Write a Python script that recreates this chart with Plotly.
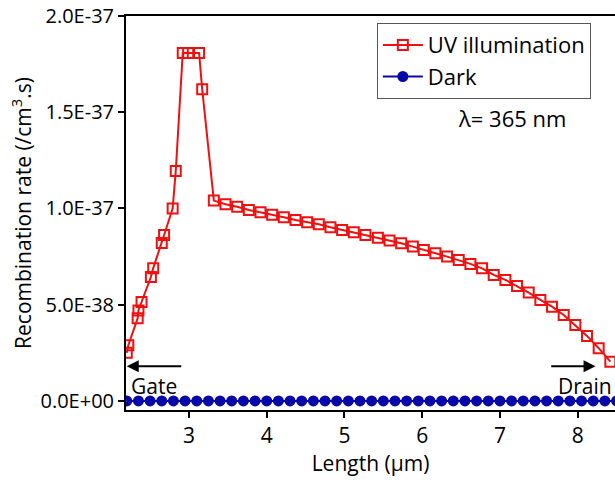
import plotly.graph_objects as go

uv_x = [2.20, 2.22, 2.34, 2.35, 2.39, 2.51, 2.54, 2.65, 2.68, 2.79, 2.83, 2.92, 2.99, 3.13, 3.17,
        3.32, 3.47, 3.62, 3.77, 3.92, 4.07, 4.22, 4.37, 4.52, 4.67, 4.82, 4.97, 5.12, 5.27,
        5.43, 5.58, 5.73, 5.88, 6.02, 6.17, 6.32, 6.47, 6.62, 6.77, 6.92, 7.07, 7.22, 7.37,
        7.52, 7.67, 7.82, 7.97, 8.12, 8.27, 8.42]
uv_y = [0.25e-37, 0.29e-37, 0.43e-37, 0.47e-37, 0.514e-37, 0.644e-37, 0.69e-37, 0.82e-37, 0.862e-37,
        1.0e-37, 1.195e-37, 1.808e-37, 1.808e-37, 1.808e-37, 1.62e-37,
        1.041e-37, 1.022e-37, 1.009e-37, 0.992e-37, 0.98e-37, 0.968e-37, 0.954e-37, 0.94e-37,
        0.928e-37, 0.918e-37, 0.902e-37, 0.888e-37, 0.876e-37, 0.862e-37,
        0.848e-37, 0.833e-37, 0.819e-37, 0.802e-37, 0.784e-37, 0.767e-37, 0.75e-37, 0.732e-37,
        0.712e-37, 0.689e-37, 0.655e-37, 0.629e-37, 0.597e-37, 0.563e-37, 0.525e-37, 0.49e-37,
        0.447e-37, 0.395e-37, 0.338e-37, 0.274e-37, 0.204e-37]

dark_x = [2.20, 2.35, 2.50, 2.65, 2.80, 2.95, 3.10, 3.25, 3.40, 3.55, 3.70, 3.85, 4.00, 4.15,
          4.30, 4.45, 4.60, 4.75, 4.90, 5.05, 5.20, 5.35, 5.50, 5.65, 5.80, 5.95, 6.10, 6.25,
          6.40, 6.55, 6.70, 6.85, 7.00, 7.15, 7.30, 7.45, 7.60, 7.75, 7.90, 8.05, 8.20, 8.35, 8.50]
dark_y = [0.0] * len(dark_x)

x_ticks = [3, 4, 5, 6, 7, 8]
y_ticks = [0, 0.5e-37, 1.0e-37, 1.5e-37, 2.0e-37]
y_tick_labels = ["0.0E+00", "5.0E-38", "1.0E-37", "1.5E-37", "2.0E-37"]

FONT = "Open Sans"
RED = "#f01010"
BLUE = "#0808a8"

fig = go.Figure()
fig.add_trace(go.Scatter(
    x=uv_x, y=uv_y, mode="lines+markers", name="UV illumination",
    line=dict(color=RED, width=2),
    marker=dict(symbol="square-open", size=10, color=RED, line=dict(width=2, color=RED)),
))
fig.add_trace(go.Scatter(
    x=dark_x, y=dark_y, mode="lines+markers", name="Dark",
    line=dict(color=BLUE, width=2),
    marker=dict(symbol="circle-dot", size=11, color=BLUE, line=dict(width=0)),
))

fig.add_annotation(x=2.2, y=0.18e-37, ax=2.92, ay=0.18e-37, xref="x", yref="y", axref="x", ayref="y",
                   showarrow=True, arrowhead=2, arrowsize=1.2, arrowwidth=2, arrowcolor="black", text="")
fig.add_annotation(x=8.23, y=0.18e-37, ax=7.64, ay=0.18e-37, xref="x", yref="y", axref="x", ayref="y",
                   showarrow=True, arrowhead=2, arrowsize=1.2, arrowwidth=2, arrowcolor="black", text="")
fig.add_annotation(x=2.23, y=0.08e-37, text="Gate", showarrow=False, xanchor="left",
                   font=dict(family=FONT, size=21, color="black"))
fig.add_annotation(x=8.47, y=0.08e-37, text="Drain", showarrow=False, xanchor="right",
                   font=dict(family=FONT, size=21, color="black"))
fig.add_annotation(x=7.15, y=1.47e-37, text="\u03bb= 365 nm", showarrow=False, xanchor="center",
                   font=dict(family=FONT, size=22, color="black"))

fig.update_layout(
    width=615, height=480,
    margin=dict(l=126, r=0, t=16, b=70),
    plot_bgcolor="white", paper_bgcolor="white",
    font=dict(family=FONT, size=21, color="black"),
    showlegend=True,
    legend=dict(x=0.513, y=0.982, xanchor="left", yanchor="top",
                bgcolor="white", bordercolor="#555", borderwidth=1,
                font=dict(family=FONT, size=22), tracegroupgap=0, itemwidth=40),
    xaxis=dict(range=[2.19, 8.48], tickvals=x_ticks, showline=True, linecolor="black", linewidth=2,
               mirror=True, ticks="outside", ticklen=6, tickwidth=2, tickcolor="black",
               showgrid=False, zeroline=False, tickfont=dict(family=FONT, size=21),
               title=dict(text="Length (\u03bcm)", font=dict(family=FONT, size=21), standoff=4)),
    yaxis=dict(range=[-0.047e-37, 2.0e-37], tickvals=y_ticks, ticktext=y_tick_labels,
               showline=True, linecolor="black", linewidth=2,
               ticks="outside", ticklen=6, tickwidth=2, tickcolor="black",
               showgrid=False, zeroline=False, tickfont=dict(family=FONT, size=20),
               title=dict(text="Recombination rate (/cm<sup>3</sup>.s)", font=dict(family=FONT, size=21), standoff=3)),
)

fig.write_html("out.html")
